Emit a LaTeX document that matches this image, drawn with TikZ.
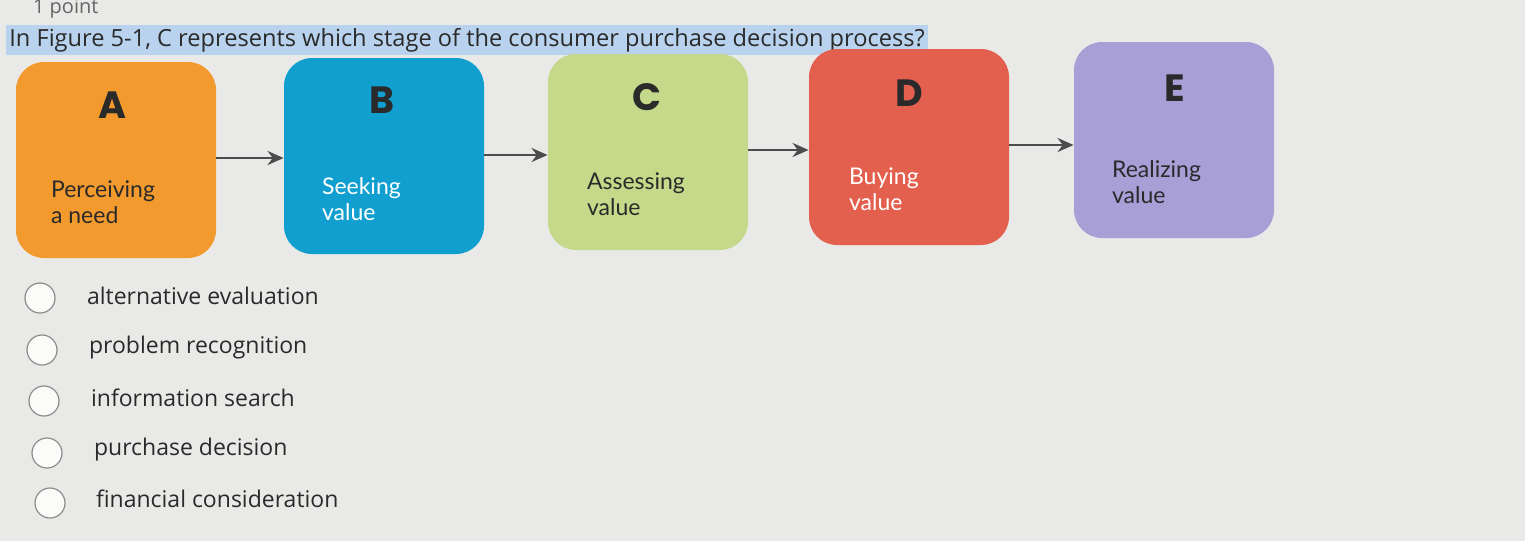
\documentclass[tikz,border=0pt]{standalone}
\usepackage{fontspec}
\setmainfont{Open Sans}
\newfontfamily\boxfont{Lato}
\newfontfamily\letterfont{Poppins}
\usetikzlibrary{arrows.meta}
\definecolor{bg}{HTML}{E9E9E7}
\definecolor{cA}{HTML}{F29A2E}
\definecolor{cB}{HTML}{119FCF}
\definecolor{cC}{HTML}{C5D98A}
\definecolor{cD}{HTML}{E4604E}
\definecolor{cE}{HTML}{A79FD6}
\definecolor{hl}{HTML}{B9D3EE}
\definecolor{txt}{HTML}{2A2A2A}
\tikzset{
 stage/.style={rounded corners=14pt,minimum width=100pt,minimum height=98pt,inner sep=0pt},
 letter/.style={font=\letterfont\bfseries\fontsize{19}{19}\selectfont,text=txt},
 lbl/.style={font=\boxfont\fontsize{11.5}{13}\selectfont,align=left,anchor=north west},
 flow/.style={-{Stealth[length=8pt,width=7pt]},line width=1.4pt,draw=black!70},
 opt/.style={circle,draw=black!45,fill=white!80!bg,minimum size=15pt,inner sep=0pt,line width=0.6pt},
 otext/.style={font=\fontsize{11.5}{13}\selectfont,text=txt,anchor=west}
}
\begin{document}
\begin{tikzpicture}[x=0.5pt,y=-0.5pt]
\fill[bg] (0,0) rectangle (1525,541);
\useasboundingbox (0,0) rectangle (1525,541);
\node[anchor=west,text=black!60,font=\fontsize{10}{11}\selectfont] (pt) at (26,9) {1 point};
\node[anchor=west,fill=hl,inner sep=1.5pt,text=txt,font=\fontsize{11.8}{13}\selectfont] (q) at (6,40) {In Figure 5-1, C represents which stage of the consumer purchase decision process?};
\node[stage,fill=cA] (A) at (116,160) {};
\node[stage,fill=cB] (B) at (384,156) {};
\node[stage,fill=cC] (C) at (648,152) {};
\node[stage,fill=cD] (D) at (909,147) {};
\node[stage,fill=cE] (E) at (1174,140) {};
\node[letter] at (113,105) {A};
\node[letter] at (382,100) {B};
\node[letter] at (647,97) {C};
\node[letter] at (909,93) {D};
\node[letter] at (1175,88) {E};
\node[lbl,text=txt] at (44,174) {Perceiving\\a need};
\node[lbl,text=white] at (315,170) {Seeking\\value};
\node[lbl,text=txt] at (580,166) {Assessing\\value};
\node[lbl,text=white] at (842,161) {Buying\\value};
\node[lbl,text=txt] at (1105,153) {Realizing\\value};
\draw[flow] (A.east|-0,158) -- (B.west|-0,158);
\draw[flow] (B.east|-0,155) -- (C.west|-0,155);
\draw[flow] (C.east|-0,150) -- (D.west|-0,150);
\draw[flow] (D.east|-0,145) -- (E.west|-0,145);
\node[opt] (o1) at (40,298) {};
\node[opt] (o2) at (42,350) {};
\node[opt] (o3) at (44,401) {};
\node[opt] (o4) at (47,453) {};
\node[opt] (o5) at (50,503) {};
\node[otext] at (80,296) {alternative evaluation};
\node[otext] at (82,348) {problem recognition};
\node[otext] at (84,398) {information search};
\node[otext] at (87,450) {purchase decision};
\node[otext] at (89,499) {financial consideration};
\end{tikzpicture}
\end{document}
